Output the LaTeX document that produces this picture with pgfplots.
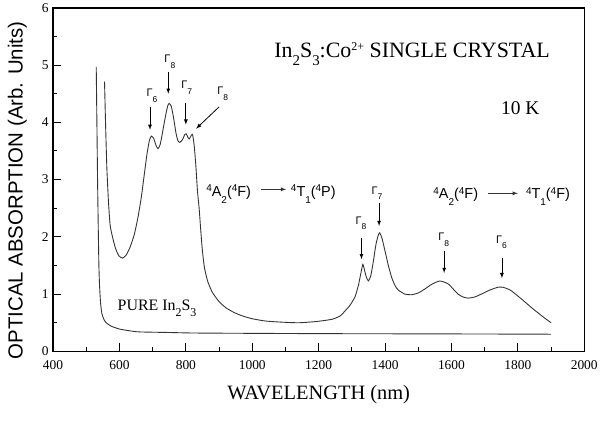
\documentclass[border=0pt]{standalone}
\usepackage{fontspec}
\setmainfont{Liberation Serif}
\newfontfamily\arial{Liberation Sans}
\usepackage{pgfplots}
\pgfplotsset{compat=1.18}
\newcommand\lo[3]{\raisebox{#1}{\fontsize{#2}{#2}\selectfont #3}}
\newcommand\G[1]{{\arial\fontsize{11}{12}\selectfont Γ\lo{-5.5pt}{8.5}{#1}}}
\begin{document}
\begin{tikzpicture}
\path (-53.3pt,-93.3pt) rectangle (547.4pt,350.7pt);
\begin{axis}[
  at={(0,0)}, anchor=south west, scale only axis,
  width=533.4pt, height=345pt,
  xmin=400, xmax=2000, ymin=0, ymax=6,
  xtick={400,600,...,2000}, ytick={0,...,6},
  minor x tick num=1, minor y tick num=1,
  tick align=inside, xtick pos=left, ytick pos=left,
  major tick length=8pt, minor tick length=4pt,
  axis line style={line width=1.4pt},
  every tick/.style={line width=1pt,black},
  ticklabel style={font=\fontsize{13.5}{15}\selectfont},
  xticklabel style={yshift=-6pt},
  yticklabel style={xshift=-1pt},
  /pgf/number format/assume math mode=true,
  /pgf/number format/1000 sep={},
  clip=false,
]
% Co-doped crystal
\addplot[black!80, line width=0.9pt, smooth, tension=0.35] coordinates {
(555,4.71)(558,4.0)(562,3.2)(567,2.6)(572,2.2)(579,2.0)(588,1.8)(598,1.67)(609,1.63)
(620,1.68)(632,1.82)(645,2.05)(656,2.35)(666,2.7)(675,3.1)(683,3.45)(690,3.68)(696,3.76)
(703,3.72)(710,3.6)(716,3.54)(723,3.62)(732,3.9)(740,4.15)(746,4.3)(750,4.33)(756,4.28)
(763,4.08)(770,3.82)(776,3.68)(782,3.65)(790,3.7)(797,3.79)(801,3.80)(806,3.74)(810,3.71)
(815,3.76)(820,3.79)(825,3.6)(830,3.25)(835,2.8)(840,2.5)(845,2.1)(850,1.75)(856,1.46)
(866,1.22)(880,1.03)(900,0.87)(921,0.76)(945,0.68)(970,0.62)(1000,0.57)(1040,0.53)
(1090,0.51)(1140,0.50)(1190,0.52)(1240,0.56)(1265,0.62)(1280,0.71)(1295,0.81)(1310,0.96)
(1320,1.16)(1326,1.33)(1333,1.52)(1338,1.42)(1344,1.29)(1350,1.23)(1357,1.32)(1365,1.58)
(1372,1.85)(1379,2.02)(1384,2.07)(1391,1.97)(1400,1.75)(1410,1.5)(1420,1.29)(1430,1.15)
(1440,1.07)(1460,1.0)(1480,0.99)(1500,1.02)(1520,1.09)(1540,1.17)(1565,1.23)(1590,1.18)
(1605,1.09)(1620,1.0)(1635,0.95)(1650,0.93)(1670,0.95)(1690,1.0)(1715,1.07)(1740,1.12)
(1755,1.12)(1770,1.09)(1780,1.06)(1810,0.92)(1840,0.77)(1870,0.63)(1900,0.50)
};
% pure In2S3
\addplot[black!80, line width=0.9pt, smooth, tension=0.35] coordinates {
(530,4.97)(532,4.0)(534,3.0)(536,2.2)(538,1.5)(540,1.15)(543,0.85)(547,0.66)(553,0.56)
(560,0.50)(575,0.44)(600,0.39)(630,0.36)(660,0.34)(750,0.33)(840,0.32)(1200,0.31)
(1600,0.305)(1900,0.30)
};
% axis titles
\node[rotate=90, font=\arial\fontsize{20.5}{22}\selectfont] at (axis cs:292,2.81) {OPTICAL ABSORPTION (Arb. Units)};
\node[anchor=base, font=\fontsize{20.5}{22}\selectfont] at (axis cs:1200,-0.84) {WAVELENGTH (nm)};
% texts
\node[anchor=base west, inner sep=0pt, font=\fontsize{22}{24}\selectfont] at (axis cs:1066,5.125)
 {In\lo{-8pt}{15}{2}S\lo{-8pt}{15}{3}:Co\lo{7pt}{12}{2+} SINGLE CRYSTAL};
\node[anchor=base west, inner sep=0pt, font=\fontsize{19.5}{22}\selectfont] at (axis cs:1749,4.13) {10 K};
\node[anchor=base west, inner sep=0pt, font=\fontsize{16}{18}\selectfont] at (axis cs:594,0.71)
 {PURE In\lo{-6pt}{12}{2}S\lo{-6pt}{12}{3}};
% transitions
\node[anchor=base west, inner sep=0pt, font=\arial\fontsize{14.5}{16}\selectfont] at (axis cs:861,2.71)
 {\lo{4.5pt}{10}{4}A\lo{-7pt}{10}{2}(\lo{4.5pt}{10}{4}F)};
\draw[-latex, line width=0.8pt, black!80] (axis cs:1027,2.83) -- (axis cs:1102,2.83);
\node[anchor=base west, inner sep=0pt, font=\arial\fontsize{14.5}{16}\selectfont] at (axis cs:1116,2.71)
 {\lo{4.5pt}{10}{4}T\lo{-7pt}{10}{1}(\lo{4.5pt}{10}{4}P)};
\node[anchor=base west, inner sep=0pt, font=\arial\fontsize{14.5}{16}\selectfont] at (axis cs:1545,2.67)
 {\lo{4.5pt}{10}{4}A\lo{-7pt}{10}{2}(\lo{4.5pt}{10}{4}F)};
\draw[-latex, line width=0.8pt, black!80] (axis cs:1710,2.76) -- (axis cs:1800,2.76);
\node[anchor=base west, inner sep=0pt, font=\arial\fontsize{14.5}{16}\selectfont] at (axis cs:1824,2.67)
 {\lo{4.5pt}{10}{4}T\lo{-7pt}{10}{1}(\lo{4.5pt}{10}{4}F)};
% Gamma labels, group 1
\node[anchor=base west, inner sep=0pt] at (axis cs:681,4.45) {\G{6}};
\draw[-latex, line width=0.8pt] (axis cs:692,4.27) -- (axis cs:692,3.87);
\node[anchor=base west, inner sep=0pt] at (axis cs:735,5.04) {\G{8}};
\draw[-latex, line width=0.8pt] (axis cs:747,4.88) -- (axis cs:747,4.50);
\node[anchor=base west, inner sep=0pt] at (axis cs:786,4.59) {\G{7}};
\draw[-latex, line width=0.8pt] (axis cs:800,4.33) -- (axis cs:800,3.96);
\node[anchor=base west, inner sep=0pt] at (axis cs:894,4.48) {\G{8}};
\draw[-latex, line width=0.8pt] (axis cs:900,4.27) -- (axis cs:831,3.89);
% Gamma labels, group 2
\node[anchor=base west, inner sep=0pt] at (axis cs:1311,2.22) {\G{8}};
\draw[-latex, line width=0.8pt] (axis cs:1329,1.98) -- (axis cs:1329,1.61);
\node[anchor=base west, inner sep=0pt] at (axis cs:1359,2.74) {\G{7}};
\draw[-latex, line width=0.8pt] (axis cs:1382,2.59) -- (axis cs:1382,2.19);
\node[anchor=base west, inner sep=0pt] at (axis cs:1560,1.93) {\G{8}};
\draw[-latex, line width=0.8pt] (axis cs:1578,1.75) -- (axis cs:1578,1.37);
\node[anchor=base west, inner sep=0pt] at (axis cs:1734,1.89) {\G{6}};
\draw[-latex, line width=0.8pt] (axis cs:1752,1.63) -- (axis cs:1752,1.28);
\end{axis}
\end{tikzpicture}
\end{document}
